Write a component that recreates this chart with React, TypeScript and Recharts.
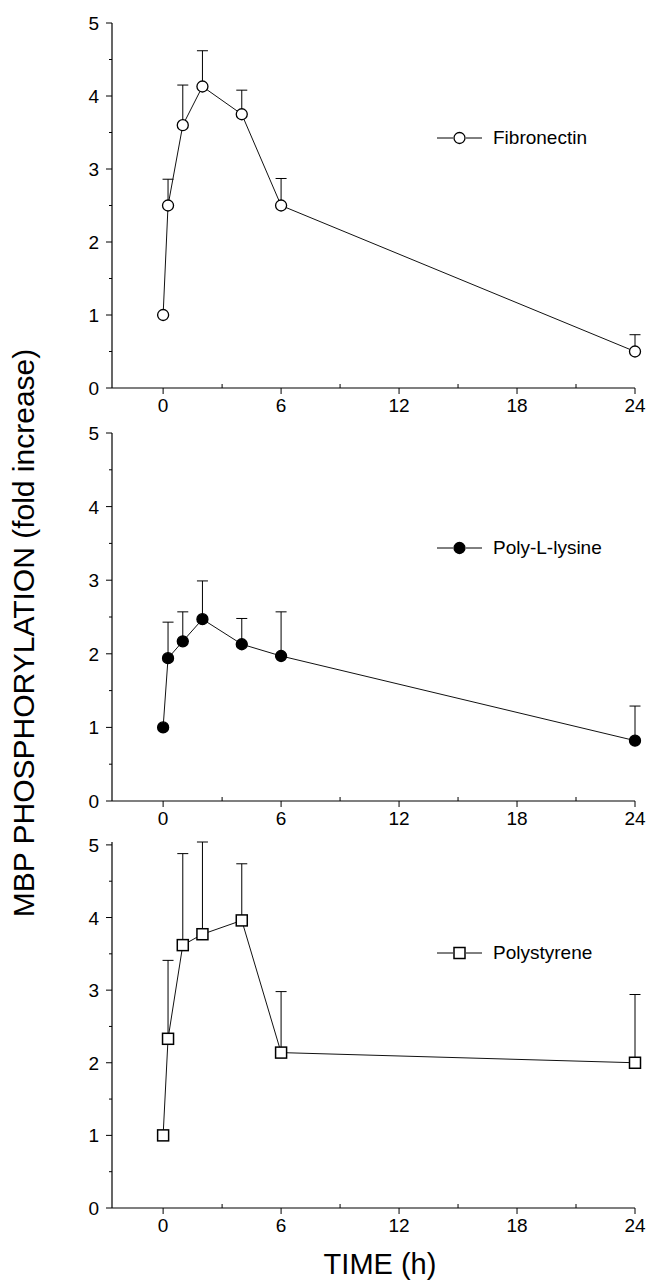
import React from "react";
import { LineChart, Line, XAxis, YAxis, ErrorBar, Legend } from "recharts";

// sampling times (h)
const times = [0, 0.25, 1, 2, 4, 6, 24];

// fold increase, mean and upper error
const fibronectin = [1.0, 2.5, 3.6, 4.13, 3.75, 2.5, 0.5];
const fibronectinErr = [0, 0.36, 0.55, 0.49, 0.33, 0.37, 0.23];
const polyLysine = [1.0, 1.94, 2.17, 2.47, 2.13, 1.97, 0.82];
const polyLysineErr = [0, 0.49, 0.4, 0.52, 0.35, 0.6, 0.47];
const polystyrene = [1.0, 2.33, 3.62, 3.77, 3.96, 2.14, 2.0];
const polystyreneErr = [0, 1.08, 1.26, 1.27, 0.78, 0.84, 0.94];

const xTicks = [0, 3, 6, 9, 12, 15, 18, 21, 24];
const xLabelTicks = [0, 6, 12, 18, 24];
const yTicks = [0, 0.5, 1, 1.5, 2, 2.5, 3, 3.5, 4, 4.5, 5];

const FONT = "'Liberation Sans', Arial, sans-serif";

type Shape = "openCircle" | "filledCircle" | "openSquare";

function Marker({ cx, cy, shape }: { cx: number; cy: number; shape: Shape }) {
  if (shape === "openSquare") {
    return <rect x={cx - 5.5} y={cy - 5.5} width={11} height={11} fill="#fff" stroke="#000" strokeWidth={1.5} />;
  }
  return (
    <circle
      cx={cx}
      cy={cy}
      r={5.5}
      fill={shape === "filledCircle" ? "#000" : "#fff"}
      stroke="#000"
      strokeWidth={1.3}
    />
  );
}

const XTick = (props: any) => {
  const { x, y, payload } = props;
  const major = xLabelTicks.includes(payload.value);
  return (
    <g>
      <line x1={x} x2={x} y1={y} y2={major ? y + 6 : y - 4} stroke="#000" strokeWidth={1} />
      {major && (
        <text x={x} y={y + 24} textAnchor="middle" fontSize={19} fontFamily={FONT} fill="#000">
          {payload.value}
        </text>
      )}
    </g>
  );
};

const YTick = (props: any) => {
  const { x, y, payload } = props;
  const major = Number.isInteger(payload.value);
  return (
    <g>
      <line x1={x} x2={x - (major ? 6 : 3)} y1={y} y2={y} stroke="#000" strokeWidth={1} />
      {major && (
        <text x={x - 13} y={y + 7} textAnchor="end" fontSize={19} fontFamily={FONT} fill="#000">
          {payload.value}
        </text>
      )}
    </g>
  );
};

interface PanelProps {
  top: number;
  height: number;
  marginTop: number;
  values: number[];
  errors: number[];
  name: string;
  shape: Shape;
  legendY: number;
}

function Panel({ top, height, marginTop, values, errors, name, shape, legendY }: PanelProps) {
  const data = times.map((t, i) => ({ t, v: values[i], e: [0, errors[i]] }));

  const LegendContent = () => (
    <div style={{ display: "flex", alignItems: "center", height: 20 }}>
      <svg width={52} height={20}>
        <line x1={0} x2={16} y1={10} y2={10} stroke="#000" strokeWidth={1} />
        <line x1={29} x2={45} y1={10} y2={10} stroke="#000" strokeWidth={1} />
        <Marker cx={22.5} cy={10} shape={shape} />
      </svg>
      <span style={{ fontFamily: FONT, fontSize: 19, color: "#000", marginLeft: 4, whiteSpace: "nowrap" }}>{name}</span>
    </div>
  );

  return (
    <div style={{ position: "absolute", left: 0, top }}>
      <LineChart width={648} height={height} data={data} margin={{ top: marginTop, right: 13, bottom: 0, left: 0 }}>
        <XAxis
          dataKey="t"
          type="number"
          domain={[-2.6, 24]}
          ticks={xTicks}
          interval={0}
          tickSize={0}
          tickMargin={0}
          tickLine={false}
          tick={<XTick />}
          height={42}
          axisLine={{ stroke: "#000", strokeWidth: 1.2 }}
        />
        <YAxis
          type="number"
          domain={[0, 5]}
          ticks={yTicks}
          interval={0}
          width={112}
          tickSize={0}
          tickMargin={0}
          tickLine={false}
          tick={<YTick />}
          axisLine={{ stroke: "#000", strokeWidth: 1.2 }}
        />
        <Legend
          layout="vertical"
          verticalAlign="middle"
          align="center"
          content={<LegendContent />}
          wrapperStyle={{ top: legendY - 10, left: 437, width: 200 }}
        />
        {/* error bars first so the markers sit on top of the lower caps */}
        <Line
          dataKey="v"
          stroke="none"
          dot={false}
          activeDot={false}
          legendType="none"
          isAnimationActive={false}
        >
          <ErrorBar dataKey="e" direction="y" width={5.5} stroke="#000" strokeWidth={1} />
        </Line>
        <Line
          dataKey="v"
          name={name}
          stroke="#111"
          strokeWidth={1}
          isAnimationActive={false}
          activeDot={false}
          dot={(p: any) => <Marker key={p.index} cx={p.cx} cy={p.cy} shape={shape} />}
        />
      </LineChart>
    </div>
  );
}

export default function App() {
  return (
    <div style={{ position: "absolute", left: 0, top: 0, width: 648, height: 1283, background: "#fff" }}>
      <Panel top={0} height={430} marginTop={23} values={fibronectin} errors={fibronectinErr} name="Fibronectin" shape="openCircle" legendY={138} />
      <Panel top={412} height={431} marginTop={21} values={polyLysine} errors={polyLysineErr} name="Poly-L-lysine" shape="filledCircle" legendY={136} />
      <Panel top={822} height={428} marginTop={20} values={polystyrene} errors={polystyreneErr} name="Polystyrene" shape="openSquare" legendY={131} />
      <div
        style={{
          position: "absolute",
          left: 24,
          top: 633,
          transform: "translate(-50%, -50%) rotate(-90deg)",
          whiteSpace: "nowrap",
          fontFamily: FONT,
          fontSize: 30,
          color: "#000",
        }}
      >
        MBP PHOSPHORYLATION (fold increase)
      </div>
      <div
        style={{
          position: "absolute",
          left: 380,
          top: 1264,
          transform: "translate(-50%, -50%)",
          whiteSpace: "nowrap",
          fontFamily: FONT,
          fontSize: 29,
          color: "#000",
          lineHeight: "32px",
        }}
      >
        TIME (h)
      </div>
    </div>
  );
}
